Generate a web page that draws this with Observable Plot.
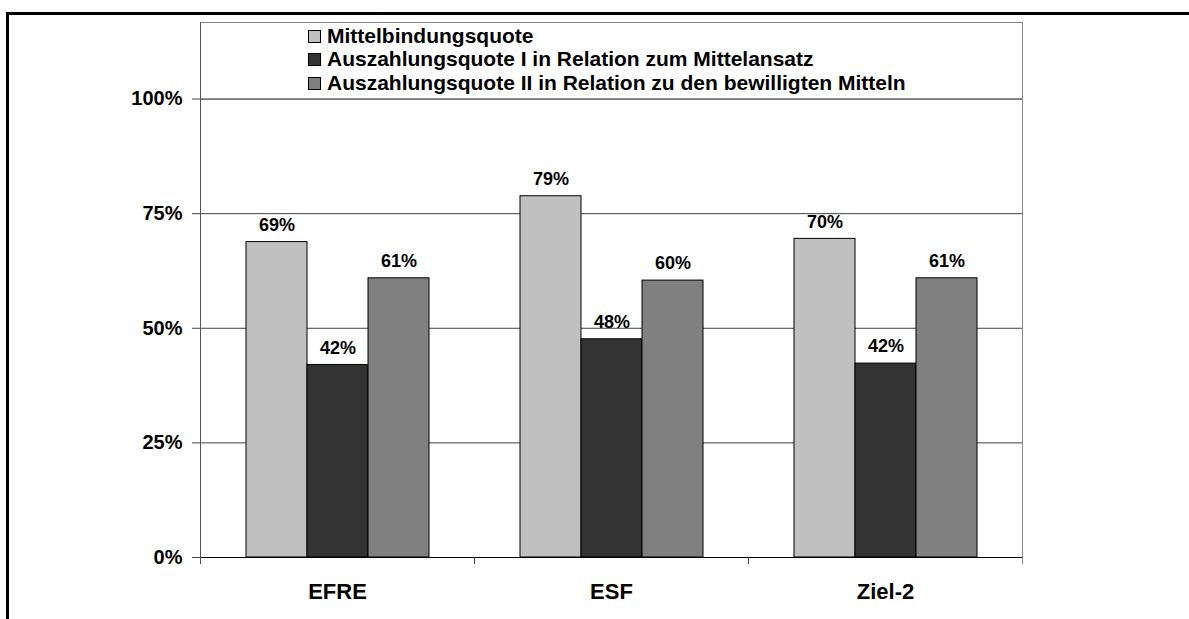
<!DOCTYPE html>
<html><head><meta charset="utf-8">
<script src="https://cdn.jsdelivr.net/npm/d3@7"></script>
<script src="https://cdn.jsdelivr.net/npm/@observablehq/plot@0.6"></script>
<style>
body{margin:0;background:#fff;width:1189px;height:619px;overflow:hidden;position:relative;font-family:"Liberation Sans",Arial,sans-serif;}
#chart{position:absolute;left:0;top:0;}
#frame{position:absolute;left:6px;top:12px;width:1300px;height:700px;border-top:3px solid #000;border-left:3px solid #000;pointer-events:none;}
#legend{position:absolute;left:308px;top:24px;font-weight:bold;font-size:21px;line-height:23.4px;color:#000;white-space:nowrap;}
#legend .sw{display:inline-block;width:11px;height:11px;border:1px solid #000;margin-right:6px;vertical-align:baseline;}
</style></head>
<body>
<div id="chart"></div>
<div id="legend"></div>
<div id="frame"></div>
<script>
const categories = ["EFRE", "ESF", "Ziel-2"];
const series = [
  "Mittelbindungsquote",
  "Auszahlungsquote I in Relation zum Mittelansatz",
  "Auszahlungsquote II in Relation zu den bewilligten Mitteln"
];
const mittelbindung = [68.8, 78.8, 69.5];
const auszahlungI = [42.0, 47.6, 42.3];
const auszahlungII = [60.9, 60.4, 60.9];
const colors = ["#c0c0c0", "#333333", "#808080"];
const yTicks = [0, 25, 50, 75, 100];
const yMax = 116.7;

const values = [mittelbindung, auszahlungI, auszahlungII];
const data = categories.flatMap((c, i) => series.map((s, j) => ({category: c, series: s, value: values[j][i]})));

const plot = Plot.plot({
  width: 1189, height: 619,
  marginLeft: 200, marginRight: 167, marginTop: 22, marginBottom: 62,
  style: {fontFamily: "'Liberation Sans', Arial, sans-serif", fontWeight: "bold", fontSize: "20px", color: "#000", background: "transparent", overflow: "visible"},
  fx: {domain: categories, padding: 0, label: null},
  x: {domain: series, paddingInner: 0, paddingOuter: 0.72, axis: null},
  y: {domain: [0, yMax], label: null},
  color: {domain: series, range: colors},
  marks: [
    Plot.gridY(yTicks.filter(d => d > 0 && d < 100), {stroke: "#000", strokeOpacity: 0.75}),
    Plot.gridY([100], {stroke: "#000", strokeOpacity: 0.95}),
    Plot.ruleY([yMax], {stroke: "#888"}),
    Plot.barY(data, {fx: "category", x: "series", y: "value", fill: "series", stroke: "#000", strokeWidth: 1, insetLeft: 0, insetRight: 0}),
    Plot.ruleY([0], {stroke: "#000"}),
    Plot.text(data, {fx: "category", x: "series", y: "value", text: d => Math.round(d.value) + "%", dy: -17, fontSize: 18, fontWeight: "bold", fill: "#000"}),
    Plot.axisY(yTicks, {tickSize: 8, tickPadding: 10, tickFormat: d => d + "%", fontSize: 20, fontWeight: "bold", label: null, stroke: "#444"}),
    Plot.axisFx({anchor: "bottom", tickSize: 0, tickPadding: 26, fontSize: 22, fontWeight: "bold", label: null})
  ]
});
document.getElementById("chart").appendChild(plot);

// frame lines and category boundary ticks from the plot's own scales
const svgEl = plot.tagName.toLowerCase() === "svg" ? plot : plot.querySelector("svg");
const fx = plot.scale("fx"), y = plot.scale("y");
const bw = fx.bandwidth;
const starts = categories.map(c => fx.apply(c));
const xL = starts[0], xR = starts[starts.length - 1] + bw;
const y0 = y.apply(0), yT = y.apply(yMax);
const g = d3.select(svgEl).append("g").attr("shape-rendering", "crispEdges");
g.append("line").attr("x1", xL).attr("x2", xL).attr("y1", yT).attr("y2", y0 + 7).attr("stroke", "#555");
g.append("line").attr("x1", xR).attr("x2", xR).attr("y1", yT).attr("y2", y0 + 7).attr("stroke", "#888");
starts.slice(1).forEach(x => g.append("line").attr("x1", x).attr("x2", x).attr("y1", y0).attr("y2", y0 + 7).attr("stroke", "#444"));

// legend
const lg = d3.select("#legend");
series.forEach((s, i) => {
  const row = lg.append("div");
  row.append("span").attr("class", "sw").style("background", colors[i]);
  row.append("span").text(s);
});
</script>
</body></html>
